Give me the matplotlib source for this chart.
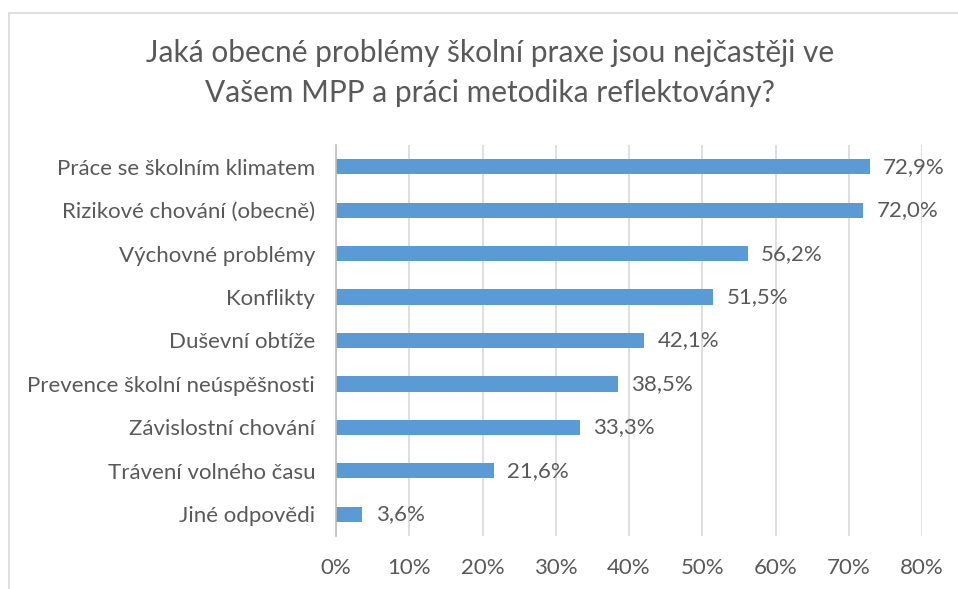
import matplotlib.pyplot as plt
from matplotlib.patches import Rectangle
from matplotlib.ticker import FuncFormatter

categories = ['Práce se školním klimatem', 'Rizikové chování (obecně)', 'Výchovné problémy',
              'Konflikty', 'Duševní obtíže', 'Prevence školní neúspěšnosti',
              'Závislostní chování', 'Trávení volného času', 'Jiné odpovědi']
values = [72.9, 72.0, 56.2, 51.5, 42.1, 38.5, 33.3, 21.6, 3.6]
xticks = [0, 10, 20, 30, 40, 50, 60, 70, 80]

plt.rcParams['font.family'] = ['Lato', 'DejaVu Sans']
txt = '#595959'

fig = plt.figure(figsize=(9.58, 5.89), dpi=100)
W, H = 958, 589
ax = fig.add_axes([336 / W, 1 - 536 / H, (922 - 336) / W, (536 - 145) / H])

# chart frame (only top/left visible in the crop)
fig.patches.append(Rectangle((9 / W, -0.1), 1.2, 1 - 13 / H + 0.1, transform=fig.transFigure,
                             fill=False, edgecolor='#d9d9d9', linewidth=1.2))

y = list(range(len(categories)))
ax.barh(y, values, height=0.35, color='#5b9bd5', zorder=3)
for yi, v in zip(y, values):
    ax.text(v + 1.8, yi, '{:.1f}%'.format(v).replace('.', ','), va='center', ha='left',
            fontsize=16, color=txt)

ax.set_ylim(len(categories) - 0.5, -0.5)
ax.set_yticks(y)
ax.set_yticklabels(categories, fontsize=16, color=txt)
ax.set_xlim(0, 80)
ax.set_xticks(xticks)
ax.xaxis.set_major_formatter(FuncFormatter(lambda x, p: '{:.0f}%'.format(x)))
ax.tick_params(axis='x', labelsize=16, labelcolor=txt, length=0, pad=16)
ax.tick_params(axis='y', length=0, pad=15)
ax.grid(axis='x', color='#d9d9d9', linewidth=1.2, zorder=0)
for s in ['top', 'right', 'bottom']:
    ax.spines[s].set_visible(False)
ax.spines['left'].set_color('#bfbfbf')
ax.spines['left'].set_linewidth(1.2)
ax.spines['left'].set_zorder(4)

fig.text(490 / W, 1 - 73 / H, 'Jaká obecné problémy školní praxe jsou nejčastěji ve\nVašem MPP a práci metodika reflektovány?',
         ha='center', va='center', fontsize=21.5, color=txt, linespacing=1.5)

fig.savefig('out.png', dpi=100)
